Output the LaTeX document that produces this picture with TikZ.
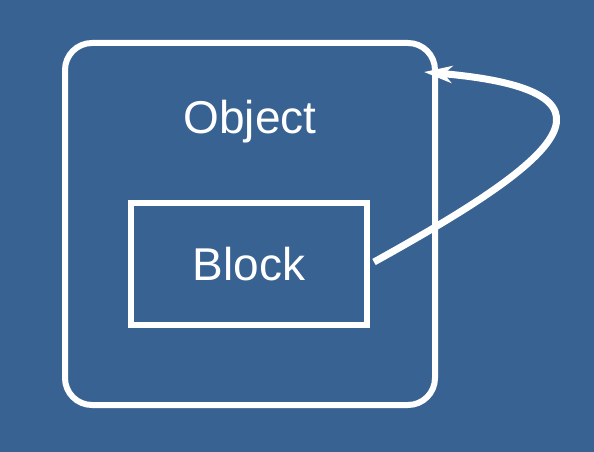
\documentclass[tikz,border=0pt]{standalone}
\usepackage{fontspec}
\setmainfont{Liberation Sans}
\usetikzlibrary{arrows.meta}
\definecolor{bgblue}{RGB}{56,98,146}

\begin{document}
\begin{tikzpicture}[x=1pt,y=-1pt]
\tikzset{box/.style={draw=white,text=white,inner sep=0pt,outer sep=0pt},
every node/.style={font=\fontsize{46}{52}\selectfont}}
\fill[bgblue] (0,0) rectangle (594,452);
\useasboundingbox (0,0) rectangle (594,452);
\node[box,line width=6pt,rounded corners=27pt,minimum width=370pt,minimum height=362pt] (object) at (250,224) {};
\node[text=white] (objname) at (250,122) {Object};
\node[box,line width=5.5pt,minimum width=236pt,minimum height=122pt] (block) at (249,264) {Block};
\coordinate (tip) at (424,72);
%\draw[white,line width=7pt] (block.east) to [bend right=60] (tip);
\draw[white,line width=7pt,-{Stealth[length=28pt,width=17pt,inset=8pt]}] ([xshift=7pt,yshift=2pt]block.east)..controls (540,170) and (652,92)..(tip);
\end{tikzpicture}
\end{document}
